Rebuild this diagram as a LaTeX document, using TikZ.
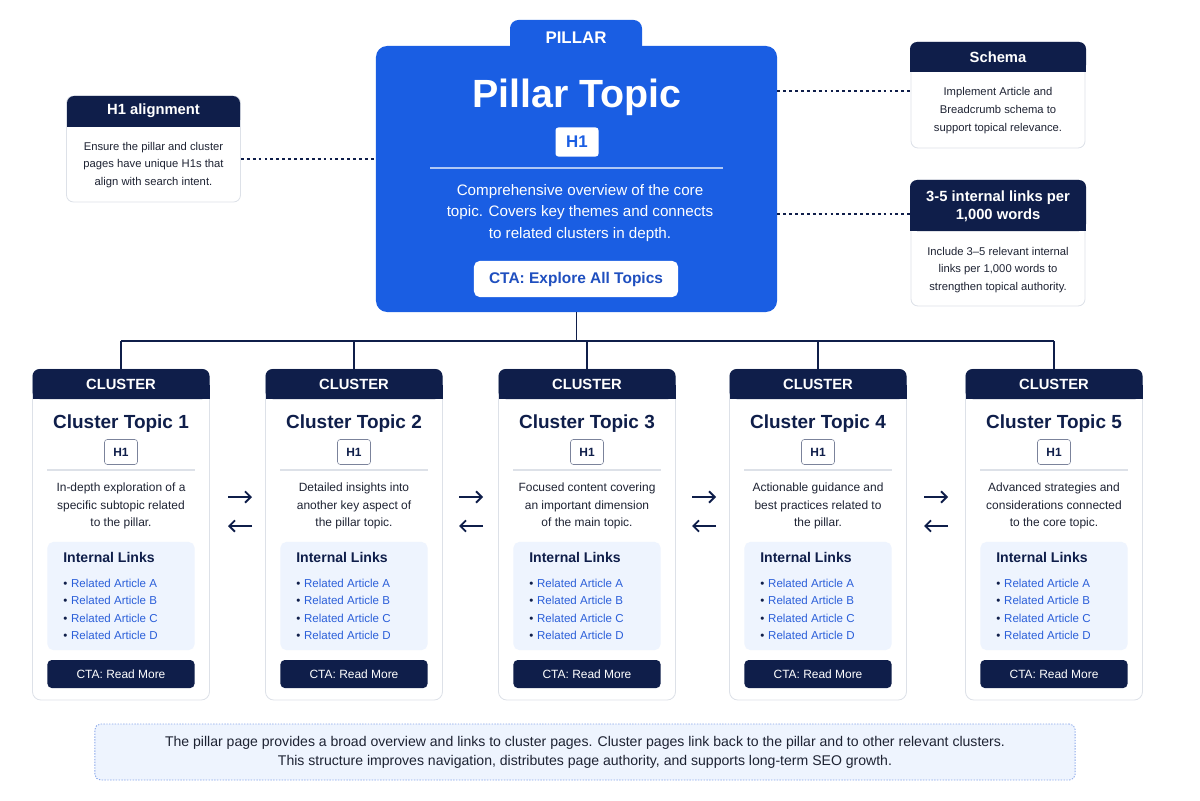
\documentclass[tikz,border=0pt]{standalone}
\usepackage{fontspec}
\setmainfont{Liberation Sans}
\usetikzlibrary{positioning,arrows.meta}
\definecolor{navy}{HTML}{0F1E4A}
\definecolor{pillarblue}{HTML}{1A5EE3}
\definecolor{ctablue}{HTML}{1F4FBF}
\definecolor{linkblue}{HTML}{2B5FD9}
\definecolor{paleblue}{HTML}{EEF4FE}
\definecolor{cardline}{HTML}{DDE1E8}
\definecolor{bodytext}{HTML}{1E2333}
\newcommand{\fs}[2]{\fontsize{#1}{#2}\selectfont}

\begin{document}
\begin{tikzpicture}[x=0.025cm,y=-0.025cm,
  pillar box/.style={fill=pillarblue,rounded corners=8pt,minimum width=10.025cm,minimum height=6.65cm,inner sep=0pt},
  card/.style={fill=white,draw=cardline,line width=0.6pt,rounded corners=6pt,minimum width=4.425cm,minimum height=8.275cm,inner sep=0pt},
  note/.style={fill=white,draw=cardline,line width=0.6pt,rounded corners=5pt,minimum width=4.35cm,inner sep=0pt},
  head text/.style={text=white,font=\bfseries\fs{10}{12}},
  body/.style={align=center,text=bodytext,font=\fs{8.5}{12.3}},
  tag/.style={draw=navy!55,rounded corners=2pt,text=navy,font=\bfseries\fs{8.5}{10},minimum width=0.825cm,minimum height=0.625cm,inner sep=0pt},
  link box/.style={fill=paleblue,rounded corners=4pt,minimum width=3.675cm,minimum height=2.7cm,inner sep=0pt},
  read btn/.style={fill=navy,rounded corners=3pt,text=white,font=\fs{8.5}{10},minimum width=3.675cm,minimum height=0.7cm,inner sep=0pt},
  tree/.style={draw=navy,line width=1.3pt},
  dotline/.style={draw=navy,line width=1.5pt,dash pattern=on 2pt off 2.2pt},
  swap/.style={draw=navy,line width=1.3pt,-{Straight Barb[length=4pt,width=8pt]}}]
\useasboundingbox (0,0) rectangle (1200,800);

% pillar
\fill[pillarblue,rounded corners=6pt] (510,20) rectangle (642,60);
\node[head text,font=\bfseries\fs{12}{14}] (ptab) at (576,38) {PILLAR};
\node[pillar box] (pillar) at (576.5,179) {};
\node[text=white,font=\bfseries\fs{28}{30}] (ptitle) at (577,97) {Pillar Topic};
\node[fill=white,rounded corners=2pt,text=pillarblue,font=\bfseries\fs{12}{14},minimum width=1.075cm,minimum height=0.725cm,inner sep=0pt] (ph1) at (577,142) {H1};
\draw[white!65!pillarblue,line width=0.8pt] (430,168) -- (723,168);
\node[align=center,text=white,font=\fs{10.8}{15}] (pdesc) at (580,213) {Comprehensive overview of the core\\topic. Covers key themes and connects\\to related clusters in depth.};
\node[fill=white,rounded corners=4pt,text=ctablue,font=\bfseries\fs{11}{13},minimum width=5.1cm,minimum height=0.9cm,inner sep=0pt] (pcta) at (576,279) {CTA: Explore All Topics};

% side notes
\node[note,minimum height=2.65cm] (h1note) at (153.5,149) {};
\fill[navy,rounded corners=5pt] (67,96) rectangle (240,127);
\fill[navy] (67,115) rectangle (240,127);
\node[head text,font=\bfseries\fs{10.5}{12}] (h1head) at (153.5,111) {H1 alignment};
\node[body,font=\fs{8}{12.5}] (h1txt) at (153.5,165) {Ensure the pillar and cluster\\pages have unique H1s that\\align with search intent.};

\node[note,minimum height=2.65cm] (schnote) at (998,95) {};
\fill[navy,rounded corners=5pt] (910,42) rectangle (1086,72);
\fill[navy] (910,60) rectangle (1086,72);
\node[head text,font=\bfseries\fs{10.5}{12}] (schhead) at (998,57) {Schema};
\node[body,font=\fs{8}{12.8}] (schtxt) at (998,111) {Implement Article and\\Breadcrumb schema to\\support topical relevance.};

\node[note,minimum height=3.15cm] (lnknote) at (998,243) {};
\fill[navy,rounded corners=5pt] (910,180) rectangle (1086,231);
\fill[navy] (910,215) rectangle (1086,231);
\node[head text,align=center,font=\bfseries\fs{10.5}{13}] (lnkhead) at (998,206) {3-5 internal links per\\1,000 words};
\node[body,font=\fs{8}{12.5}] (lnktxt) at (998,270) {Include 3--5 relevant internal\\links per 1,000 words to\\strengthen topical authority.};

\coordinate (h1y) at (0,159);
\coordinate (schy) at (0,91);
\coordinate (lnky) at (0,214);
\draw[dotline] (h1note.east |- h1y) -- (pillar.west |- h1y);
\draw[dotline] (pillar.east |- schy) -- (schnote.west |- schy);
\draw[dotline] (pillar.east |- lnky) -- (lnknote.west |- lnky);

% clusters
\foreach \i/\cx/\da/\db/\dc in {
  1/121/In-depth exploration of a/specific subtopic related/to the pillar.,
  2/354/Detailed insights into/another key aspect of/the pillar topic.,
  3/587/Focused content covering/an important dimension/of the main topic.,
  4/818/Actionable guidance and/best practices related to/the pillar.,
  5/1054/Advanced strategies and/considerations connected/to the core topic.}{
  \node[card] (card\i) at (\cx,534.5) {};
  \fill[navy,rounded corners=5pt] (\cx-88.5,369) rectangle (\cx+88.5,399);
  \fill[navy] (\cx-88.5,385) rectangle (\cx+88.5,399);
  \node[head text,font=\bfseries\fs{10.5}{12}] (head\i) at (\cx,384) {CLUSTER};
  \node[text=navy,font=\bfseries\fs{13.5}{16}] (title\i) at (\cx,424) {Cluster Topic \i};
  \node[tag] (h\i) at (\cx,452) {H1};
  \draw[cardline,line width=0.8pt] (\cx-74,470) -- (\cx+74,470);
  \node[body] (desc\i) at (\cx,506) {\da\\\db\\\dc};
  \node[link box] (links\i) at (\cx,596) {};
  \node[anchor=west,text=navy,font=\bfseries\fs{10}{12},inner sep=0pt] (lt\i) at (\cx-58,557) {Internal Links};
  \foreach \l [count=\k] in {A,B,C,D}
    \node[anchor=west,text=linkblue,font=\fs{8.2}{10},inner sep=0pt] (art\i\l) at (\cx-58,{565.4+17.6*\k}) {{\color{navy}\textbullet}\,\,Related Article \l};
  \node[read btn] (cta\i) at (\cx,674) {CTA: Read More};
}

% tree
\coordinate (busL) at (121,341);
\coordinate (busR) at (1054,341);
\draw[tree] (pillar.south) -- (pillar.south |- busL);
\draw[tree] (busL) -- (busR);
\foreach \i in {1,...,5}
  \draw[tree] (card\i.north |- busL) -- (card\i.north);

% back-and-forth links
\foreach \j/\ax in {1/240,2/471,3/704,4/936}{
  \coordinate (fa\j) at (\ax-12,497);
  \coordinate (fb\j) at (\ax+12,497);
  \coordinate (ba\j) at (\ax+12,526);
  \coordinate (bb\j) at (\ax-12,526);
  \draw[swap] (fa\j) -- (fb\j);
  \draw[swap] (ba\j) -- (bb\j);
}

% summary
\node[fill=paleblue,draw=linkblue!55,line width=0.6pt,dash pattern=on 1pt off 1pt,rounded corners=4pt,minimum width=24.5cm,minimum height=1.4cm,align=center,text=bodytext,font=\fs{10}{13.5}] (summary) at (585,752)
  {The pillar page provides a broad overview and links to cluster pages. Cluster pages link back to the pillar and to other relevant clusters.\\This structure improves navigation, distributes page authority, and supports long-term SEO growth.};
\end{tikzpicture}
\end{document}
